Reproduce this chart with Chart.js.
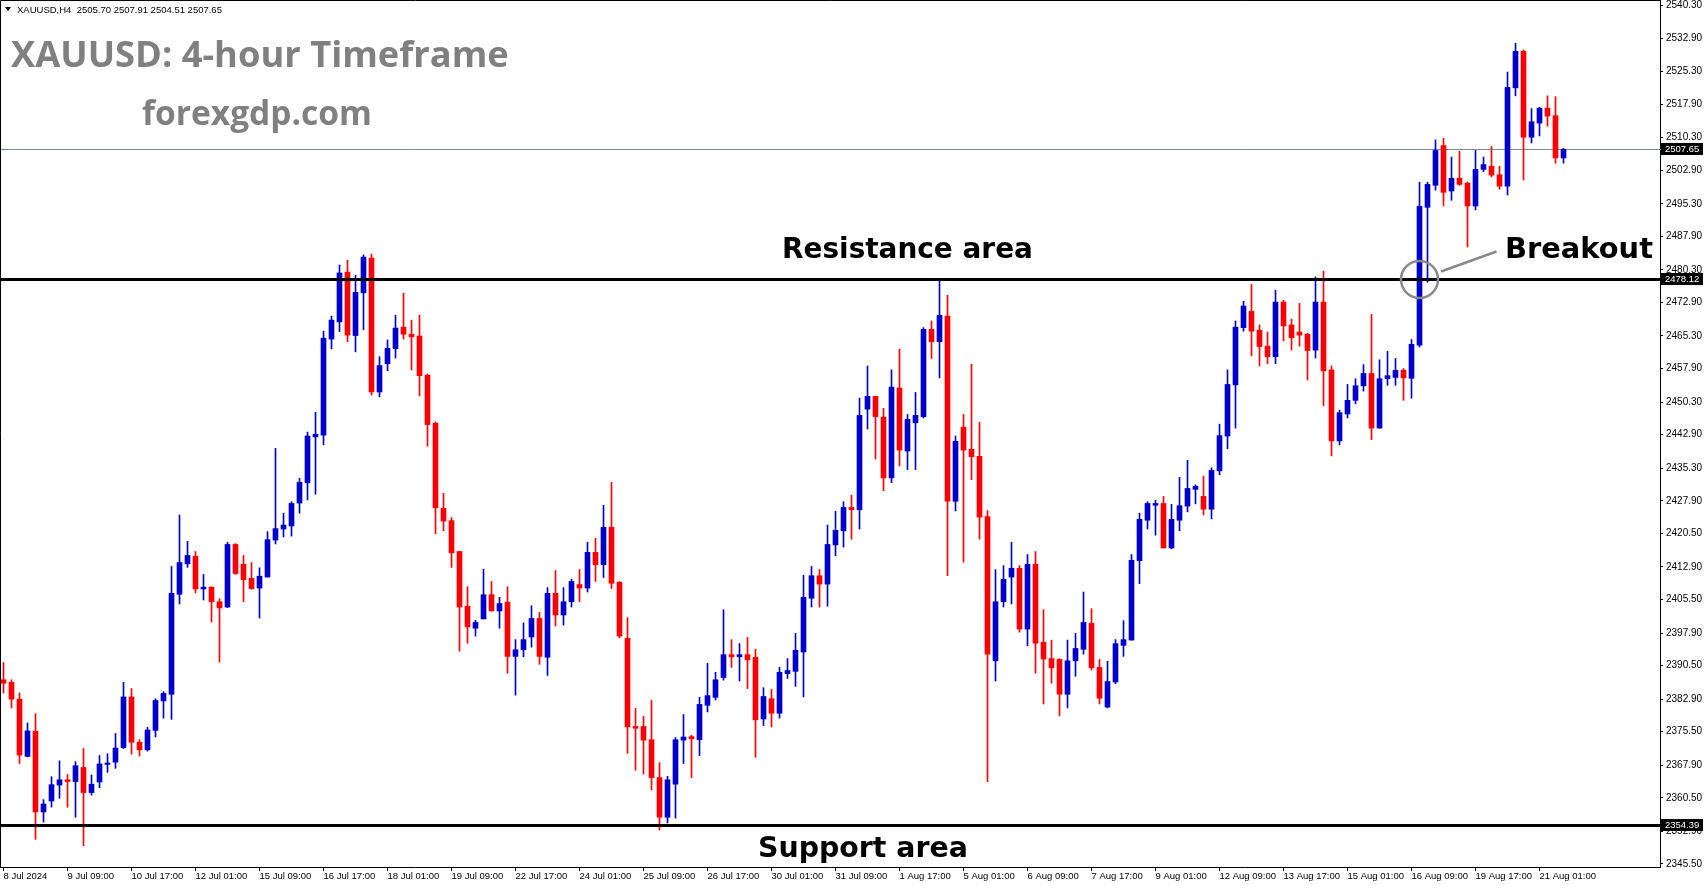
<!DOCTYPE html>
<html>
<head>
<meta charset="utf-8">
<script src="https://cdn.jsdelivr.net/npm/chart.js@4.4.1/dist/chart.umd.min.js"></script>
<style>
    html, body { margin: 0; padding: 0; background: #fff; }
    #chart { display: block; }
</style>
</head>
<body>
<canvas id="chart" width="1705" height="888" style="width:1705px;height:888px"></canvas>
<script>
// XAUUSD H4 candles, 8 Jul 2024 -> 21 Aug 2024
const opens = [
    2387.3, 2386.7, 2382.9, 2369.9, 2375.6, 2357.3, 2359.8, 2363.4, 2364.6, 2364.2, 2367.4, 2361.7, 2364.1, 2368.1,
    2368.6, 2371.9, 2383.4, 2373.1, 2371.4, 2375.8, 2382.5, 2384.0, 2406.7, 2413.6, 2415.3, 2407.9, 2408.3, 2405.0,
    2403.8, 2418.0, 2413.5, 2410.3, 2408.1, 2410.6, 2419.0, 2421.5, 2422.2, 2427.4, 2432.0, 2442.4, 2442.8, 2464.6,
    2468.5, 2479.8, 2465.4, 2475.1, 2483.0, 2452.6, 2459.0, 2462.4, 2467.3, 2465.7, 2465.3, 2456.4, 2445.5, 2426.2,
    2423.4, 2416.4, 2404.0, 2399.0, 2401.1, 2406.6, 2402.9, 2404.9, 2392.6, 2394.1, 2397.0, 2401.2, 2392.4, 2406.9,
    2402.0, 2405.0, 2408.9, 2408.1, 2416.2, 2413.4, 2421.9, 2409.4, 2396.7, 2376.7, 2376.7, 2373.7, 2365.1, 2356.1,
    2363.6, 2373.6, 2374.4, 2373.7, 2381.5, 2383.3, 2387.8, 2393.0, 2392.5, 2393.0, 2392.4, 2378.4, 2383.0, 2379.7,
    2388.7, 2389.2, 2393.6, 2405.8, 2410.9, 2409.0, 2417.9, 2421.1, 2426.4, 2425.9, 2448.7, 2451.6, 2446.9, 2433.1,
    2453.5, 2439.2, 2445.6, 2447.0, 2466.8, 2464.0, 2469.8, 2427.8, 2444.6, 2439.6, 2438.0, 2424.3, 2391.6, 2405.0,
    2410.6, 2412.6, 2398.8, 2413.5, 2395.8, 2392.1, 2391.9, 2384.0, 2391.6, 2394.2, 2400.1, 2390.1, 2381.1, 2386.8,
    2395.1, 2396.3, 2414.3, 2423.5, 2426.9, 2427.3, 2417.2, 2423.5, 2426.7, 2430.5, 2428.9, 2426.0, 2434.7, 2442.6,
    2454.2, 2467.2, 2470.9, 2466.6, 2463.0, 2460.6, 2473.0, 2467.8, 2466.2, 2465.7, 2462.1, 2473.0, 2457.6, 2441.5,
    2447.6, 2450.7, 2454.0, 2456.8, 2444.4, 2455.6, 2455.9, 2457.5, 2455.7, 2463.2, 2494.5, 2499.5, 2508.5, 2498.2,
    2501.1, 2500.0, 2494.8, 2503.1, 2503.8, 2501.9, 2499.3, 2521.6, 2529.9, 2510.4, 2513.6, 2517.0, 2515.3, 2505.70
];
const highs = [
    2391.2, 2387.3, 2384.3, 2377.5, 2379.6, 2360.1, 2365.3, 2368.9, 2365.8, 2368.7, 2371.7, 2365.7, 2370.1, 2370.5,
    2375.1, 2386.7, 2385.3, 2373.7, 2376.5, 2383.0, 2384.6, 2413.0, 2424.7, 2418.7, 2416.4, 2411.2, 2408.4, 2405.7,
    2418.5, 2418.2, 2415.5, 2413.9, 2412.7, 2420.9, 2439.8, 2425.1, 2427.7, 2433.0, 2443.5, 2448.0, 2466.4, 2469.8,
    2481.4, 2482.5, 2479.1, 2483.7, 2483.9, 2460.6, 2464.4, 2470.0, 2475.0, 2468.9, 2470.0, 2456.7, 2445.8, 2429.6,
    2424.1, 2416.4, 2408.4, 2400.8, 2412.4, 2409.6, 2406.0, 2408.4, 2396.4, 2400.2, 2404.1, 2402.6, 2408.2, 2412.1,
    2408.2, 2410.1, 2412.3, 2418.5, 2419.4, 2426.9, 2432.1, 2409.6, 2401.4, 2380.8, 2379.0, 2382.6, 2368.5, 2365.4,
    2374.2, 2379.4, 2374.7, 2383.3, 2391.0, 2389.0, 2403.2, 2396.4, 2395.5, 2396.9, 2394.2, 2385.5, 2385.1, 2390.1,
    2392.1, 2397.8, 2411.0, 2413.0, 2412.3, 2422.4, 2425.5, 2427.7, 2429.2, 2451.2, 2458.5, 2451.6, 2448.9, 2457.6,
    2462.3, 2447.5, 2452.5, 2467.2, 2468.7, 2477.9, 2474.5, 2442.6, 2447.5, 2458.9, 2445.7, 2425.7, 2412.3, 2413.2,
    2418.5, 2413.2, 2415.7, 2416.4, 2403.2, 2396.3, 2392.1, 2396.3, 2397.8, 2407.2, 2403.4, 2391.9, 2391.5, 2396.4,
    2400.7, 2415.7, 2425.1, 2427.7, 2428.0, 2428.9, 2427.1, 2433.2, 2437.1, 2431.5, 2433.5, 2435.4, 2445.3, 2457.6,
    2468.7, 2473.2, 2477.0, 2467.8, 2466.2, 2475.7, 2473.4, 2469.1, 2472.7, 2465.9, 2478.7, 2480.0, 2458.5, 2448.5,
    2454.3, 2455.6, 2458.8, 2470.2, 2459.9, 2461.8, 2460.2, 2457.9, 2464.5, 2500.2, 2500.2, 2509.8, 2510.2, 2505.9,
    2507.2, 2500.2, 2507.4, 2505.9, 2508.3, 2503.8, 2525.2, 2531.7, 2530.2, 2516.9, 2517.2, 2519.8, 2519.6, 2507.91
];
const lows = [
    2384.3, 2380.9, 2368.3, 2369.8, 2351.1, 2355.0, 2358.4, 2360.4, 2358.4, 2356.1, 2349.6, 2361.1, 2362.8, 2366.3,
    2367.2, 2371.7, 2370.4, 2370.0, 2371.1, 2374.3, 2378.6, 2378.3, 2404.5, 2412.8, 2407.0, 2405.4, 2400.4, 2391.3,
    2403.7, 2411.2, 2405.0, 2407.8, 2401.3, 2410.6, 2418.1, 2419.7, 2419.9, 2425.1, 2428.1, 2429.4, 2440.6, 2462.4,
    2466.3, 2464.0, 2461.7, 2466.7, 2451.9, 2451.5, 2457.4, 2460.3, 2464.6, 2457.6, 2451.7, 2440.3, 2420.4, 2421.1,
    2412.8, 2393.8, 2395.6, 2397.2, 2401.1, 2402.9, 2399.0, 2388.8, 2383.8, 2392.5, 2394.7, 2390.8, 2388.3, 2399.5,
    2399.7, 2403.8, 2405.0, 2407.2, 2409.6, 2410.5, 2408.0, 2396.8, 2370.6, 2366.8, 2365.9, 2362.3, 2353.2, 2354.8,
    2355.9, 2368.3, 2365.1, 2370.1, 2380.0, 2382.7, 2387.2, 2390.1, 2387.0, 2385.3, 2369.7, 2376.9, 2376.6, 2378.6,
    2387.6, 2385.8, 2383.4, 2403.8, 2403.8, 2404.0, 2415.4, 2417.4, 2419.2, 2421.5, 2444.2, 2437.4, 2430.2, 2432.0,
    2435.8, 2435.0, 2435.0, 2446.7, 2460.2, 2455.8, 2410.9, 2425.6, 2414.0, 2432.7, 2419.2, 2364.2, 2387.0, 2403.8,
    2404.5, 2398.1, 2395.0, 2388.8, 2381.8, 2386.5, 2379.1, 2380.9, 2388.1, 2393.1, 2389.5, 2381.8, 2380.9, 2386.4,
    2392.6, 2396.3, 2409.1, 2421.5, 2420.1, 2417.2, 2417.0, 2421.1, 2425.4, 2427.2, 2424.7, 2423.8, 2433.8, 2439.7,
    2444.4, 2466.4, 2460.8, 2458.5, 2459.0, 2459.0, 2464.2, 2462.1, 2463.0, 2455.3, 2460.3, 2449.5, 2438.1, 2440.6,
    2446.7, 2449.9, 2452.8, 2441.8, 2444.4, 2454.1, 2454.1, 2450.7, 2451.2, 2462.8, 2477.5, 2498.4, 2494.8, 2496.1,
    2499.5, 2485.5, 2493.9, 2502.6, 2501.4, 2498.6, 2497.3, 2519.8, 2500.7, 2509.1, 2510.7, 2512.9, 2504.5, 2504.51
];
const closes = [
    2386.5, 2382.9, 2370.2, 2375.7, 2357.3, 2359.1, 2363.5, 2364.6, 2364.2, 2367.8, 2361.7, 2363.6, 2368.2, 2368.4,
    2371.8, 2383.4, 2373.1, 2371.4, 2375.9, 2382.6, 2384.2, 2406.9, 2413.9, 2415.5, 2407.9, 2408.3, 2405.0, 2403.6,
    2418.0, 2411.4, 2410.0, 2408.0, 2410.8, 2419.1, 2421.6, 2422.4, 2427.3, 2432.1, 2442.6, 2443.0, 2464.8, 2468.9,
    2479.6, 2465.5, 2475.2, 2483.2, 2452.6, 2458.6, 2462.5, 2467.1, 2465.7, 2465.1, 2456.3, 2445.2, 2426.3, 2423.3,
    2416.1, 2403.8, 2399.3, 2400.3, 2406.6, 2402.9, 2404.6, 2392.6, 2394.1, 2396.4, 2401.2, 2392.6, 2406.9, 2402.0,
    2405.0, 2409.6, 2408.1, 2416.2, 2413.4, 2421.9, 2409.2, 2397.2, 2376.6, 2376.3, 2373.6, 2365.1, 2356.1, 2364.6,
    2373.7, 2374.3, 2373.9, 2381.7, 2383.7, 2387.3, 2393.0, 2392.5, 2393.0, 2391.8, 2378.2, 2383.5, 2379.7, 2389.0,
    2389.4, 2394.0, 2406.0, 2410.9, 2409.0, 2418.0, 2421.2, 2426.4, 2425.9, 2447.3, 2451.6, 2447.0, 2433.1, 2453.7,
    2439.4, 2446.4, 2447.3, 2466.8, 2464.0, 2470.0, 2427.8, 2441.4, 2439.4, 2437.9, 2424.2, 2393.1, 2405.0, 2410.1,
    2412.6, 2398.8, 2413.5, 2395.6, 2392.0, 2390.0, 2384.0, 2391.6, 2394.4, 2400.3, 2390.0, 2383.1, 2386.9, 2395.5,
    2396.4, 2414.4, 2423.7, 2427.3, 2427.3, 2417.2, 2423.7, 2426.8, 2430.7, 2431.2, 2426.0, 2434.8, 2442.7, 2454.3,
    2467.3, 2472.1, 2466.4, 2462.9, 2460.6, 2473.0, 2467.6, 2464.9, 2465.5, 2462.0, 2473.0, 2457.4, 2441.5, 2447.9,
    2450.7, 2454.0, 2456.8, 2444.4, 2455.6, 2456.3, 2457.5, 2455.8, 2463.4, 2494.7, 2499.7, 2507.4, 2497.9, 2501.1,
    2499.7, 2494.8, 2503.1, 2504.2, 2501.8, 2499.3, 2521.7, 2529.9, 2510.4, 2513.9, 2517.0, 2515.2, 2505.7, 2507.65
];

// one time label every 8 bars
const timeLabels = [
    '8 Jul 2024', '9 Jul 09:00', '10 Jul 17:00', '12 Jul 01:00', '15 Jul 09:00', '16 Jul 17:00', '18 Jul 01:00',
    '19 Jul 09:00', '22 Jul 17:00', '24 Jul 01:00', '25 Jul 09:00', '26 Jul 17:00', '30 Jul 01:00', '31 Jul 09:00',
    '1 Aug 17:00', '5 Aug 01:00', '6 Aug 09:00', '7 Aug 17:00', '9 Aug 01:00', '12 Aug 09:00', '13 Aug 17:00',
    '15 Aug 01:00', '16 Aug 09:00', '19 Aug 17:00', '21 Aug 01:00'
];
const priceTicks = [
    2540.30, 2532.90, 2525.30, 2517.90, 2510.30, 2502.90, 2495.30, 2487.90, 2480.30, 2472.90, 2465.30, 2457.90,
    2450.30, 2442.90, 2435.30, 2427.90, 2420.50, 2412.90, 2405.50, 2397.90, 2390.50, 2382.90, 2375.50, 2367.90,
    2360.50, 2352.90, 2345.50
];

const resistanceLevel = 2478.12;
const supportLevel = 2354.39;
const breakoutBar = 177;
const lastPrice = closes[closes.length - 1];

const UP = '#0000cd';
const DOWN = '#ff0000';
const AXIS_FONT = '"Liberation Sans", Arial, sans-serif';

const colors = closes.map((c, i) => (c >= opens[i] ? UP : DOWN));
const wickData = lows.map((l, i) => ({ x: i, y: [l, highs[i]] }));
const bodyData = opens.map((o, i) => ({ x: i, y: [o, closes[i]] }));

// fit a text to a given pixel width
const fitFont = (ctx, text, weight, family, width) => {
    ctx.font = `${weight} 100px ${family}`;
    const size = 100 * width / ctx.measureText(text).width;
    ctx.font = `${weight} ${size}px ${family}`;
};

const priceTag = (ctx, y, value, x) => {
    ctx.fillStyle = '#000';
    ctx.fillRect(x + 1, Math.round(y) - 6, 42, 12);
    ctx.fillStyle = '#fff';
    ctx.font = `9.5px ${AXIS_FONT}`;
    ctx.textBaseline = 'middle';
    ctx.textAlign = 'left';
    ctx.fillText(value.toFixed(2), x + 5, Math.round(y) + 0.5);
};

const overlay = {
    id: 'overlay',
    beforeDraw(chart) {
        const { ctx } = chart;
        ctx.save();
        ctx.fillStyle = '#fff';
        ctx.fillRect(0, 0, chart.width, chart.height);
        ctx.restore();
    },
    beforeDatasetsDraw(chart) {
        const { ctx, chartArea: a, scales: { y } } = chart;
        const py = Math.round(y.getPixelForValue(lastPrice)) + 0.5;
        ctx.save();
        ctx.strokeStyle = '#778899';
        ctx.lineWidth = 1;
        ctx.beginPath();
        ctx.moveTo(a.left, py);
        ctx.lineTo(a.right + 2, py);
        ctx.stroke();
        ctx.restore();
    },
    afterDatasetsDraw(chart) {
        const { ctx, chartArea: a, scales: { y } } = chart;
        ctx.save();
        ctx.strokeStyle = '#000';
        ctx.lineWidth = 3;
        [resistanceLevel, supportLevel].forEach(level => {
            const py = Math.round(y.getPixelForValue(level)) + 0.5;
            ctx.beginPath();
            ctx.moveTo(a.left, py);
            ctx.lineTo(a.right + 2, py);
            ctx.stroke();
        });
        ctx.restore();
    },
    afterDraw(chart) {
        const { ctx, chartArea: a, scales: { x, y } } = chart;
        ctx.save();

        // frame
        ctx.strokeStyle = '#000';
        ctx.lineWidth = 1;
        ctx.beginPath();
        ctx.moveTo(a.left + 0.5, a.bottom);
        ctx.lineTo(a.left + 0.5, a.top + 0.5);
        ctx.lineTo(a.right, a.top + 0.5);
        ctx.stroke();

        // price tags on the axis
        priceTag(ctx, y.getPixelForValue(lastPrice), lastPrice, a.right);
        priceTag(ctx, y.getPixelForValue(resistanceLevel), resistanceLevel, a.right);
        priceTag(ctx, y.getPixelForValue(supportLevel), supportLevel, a.right);

        // header line
        ctx.fillStyle = '#000';
        ctx.beginPath();
        ctx.moveTo(5, 7);
        ctx.lineTo(11, 7);
        ctx.lineTo(8, 11);
        ctx.closePath();
        ctx.fill();
        ctx.font = `9.5px ${AXIS_FONT}`;
        ctx.textAlign = 'left';
        ctx.textBaseline = 'alphabetic';
        ctx.fillText(`XAUUSD,H4  ${opens[opens.length - 1].toFixed(2)} ${highs[highs.length - 1].toFixed(2)} ` +
            `${lows[lows.length - 1].toFixed(2)} ${lastPrice.toFixed(2)}`, 17, 13);

        // titles
        ctx.fillStyle = '#808080';
        fitFont(ctx, 'XAUUSD: 4-hour Timeframe', 'bold', '"Open Sans", sans-serif', 498);
        ctx.fillText('XAUUSD: 4-hour Timeframe', 11, 67);
        fitFont(ctx, 'forexgdp.com', 'bold', '"Open Sans", sans-serif', 230);
        ctx.fillText('forexgdp.com', 142, 125);

        // annotations
        ctx.fillStyle = '#000';
        fitFont(ctx, 'Resistance area', 'bold', '"DejaVu Sans", sans-serif', 251);
        ctx.fillText('Resistance area', 782, 258);
        fitFont(ctx, 'Support area', 'bold', '"DejaVu Sans", sans-serif', 210);
        ctx.fillText('Support area', 758, 857);
        fitFont(ctx, 'Breakout', 'bold', '"DejaVu Sans", sans-serif', 148);
        ctx.fillText('Breakout', 1505, 258);

        // breakout marker
        const cx = x.getPixelForValue(breakoutBar);
        const cy = y.getPixelForValue(resistanceLevel);
        const r = 18.5;
        ctx.strokeStyle = '#8a8a8a';
        ctx.lineWidth = 2.5;
        ctx.beginPath();
        ctx.arc(cx, cy, r, 0, Math.PI * 2);
        ctx.stroke();
        ctx.beginPath();
        ctx.moveTo(cx + r + 3, cy - 8);
        ctx.lineTo(cx + 77, cy - 28);
        ctx.stroke();

        ctx.restore();
    }
};

const ctx = document.getElementById('chart').getContext('2d');

new Chart(ctx, {
    type: 'bar',
    data: {
        datasets: [{
            label: 'wick',
            data: wickData,
            backgroundColor: colors,
            barThickness: 1,
            grouped: false,
            borderWidth: 0
        }, {
            label: 'body',
            data: bodyData,
            backgroundColor: colors,
            barThickness: 5,
            grouped: false,
            minBarLength: 1,
            borderWidth: 0
        }]
    },
    options: {
        responsive: false,
        animation: false,
        events: [],
        layout: { padding: 0 },
        plugins: {
            legend: { display: false },
            tooltip: { enabled: false }
        },
        scales: {
            x: {
                type: 'linear',
                offset: false,
                min: -0.4375,
                max: 207.0625,
                grid: { drawOnChartArea: false, tickLength: 4, color: '#000', offset: false },
                border: { color: '#000' },
                ticks: {
                    autoSkip: false,
                    maxRotation: 0,
                    align: 'start',
                    padding: 0,
                    color: '#000',
                    font: { family: AXIS_FONT, size: 9.5 },
                    callback: (value, index) => timeLabels[index]
                },
                afterBuildTicks: scale => {
                    scale.ticks = timeLabels.map((t, k) => ({ value: k * 8 }));
                },
                afterFit: scale => {
                    scale.height = 21;
                    scale.paddingLeft = 0;
                    scale.paddingRight = 0;
                }
            },
            y: {
                position: 'right',
                min: 2344.81,
                max: 2541.54,
                stacked: false,
                grid: { drawOnChartArea: false, tickLength: 3, color: '#000' },
                border: { color: '#000' },
                ticks: {
                    autoSkip: false,
                    padding: 3,
                    color: '#000',
                    font: { family: AXIS_FONT, size: 10 },
                    callback: value => value.toFixed(2)
                },
                afterBuildTicks: scale => {
                    scale.ticks = priceTicks.map(v => ({ value: v }));
                },
                afterFit: scale => {
                    scale.width = 45;
                    scale.paddingTop = 0;
                    scale.paddingBottom = 0;
                }
            }
        }
    },
    plugins: [overlay]
});
</script>
</body>
</html>
